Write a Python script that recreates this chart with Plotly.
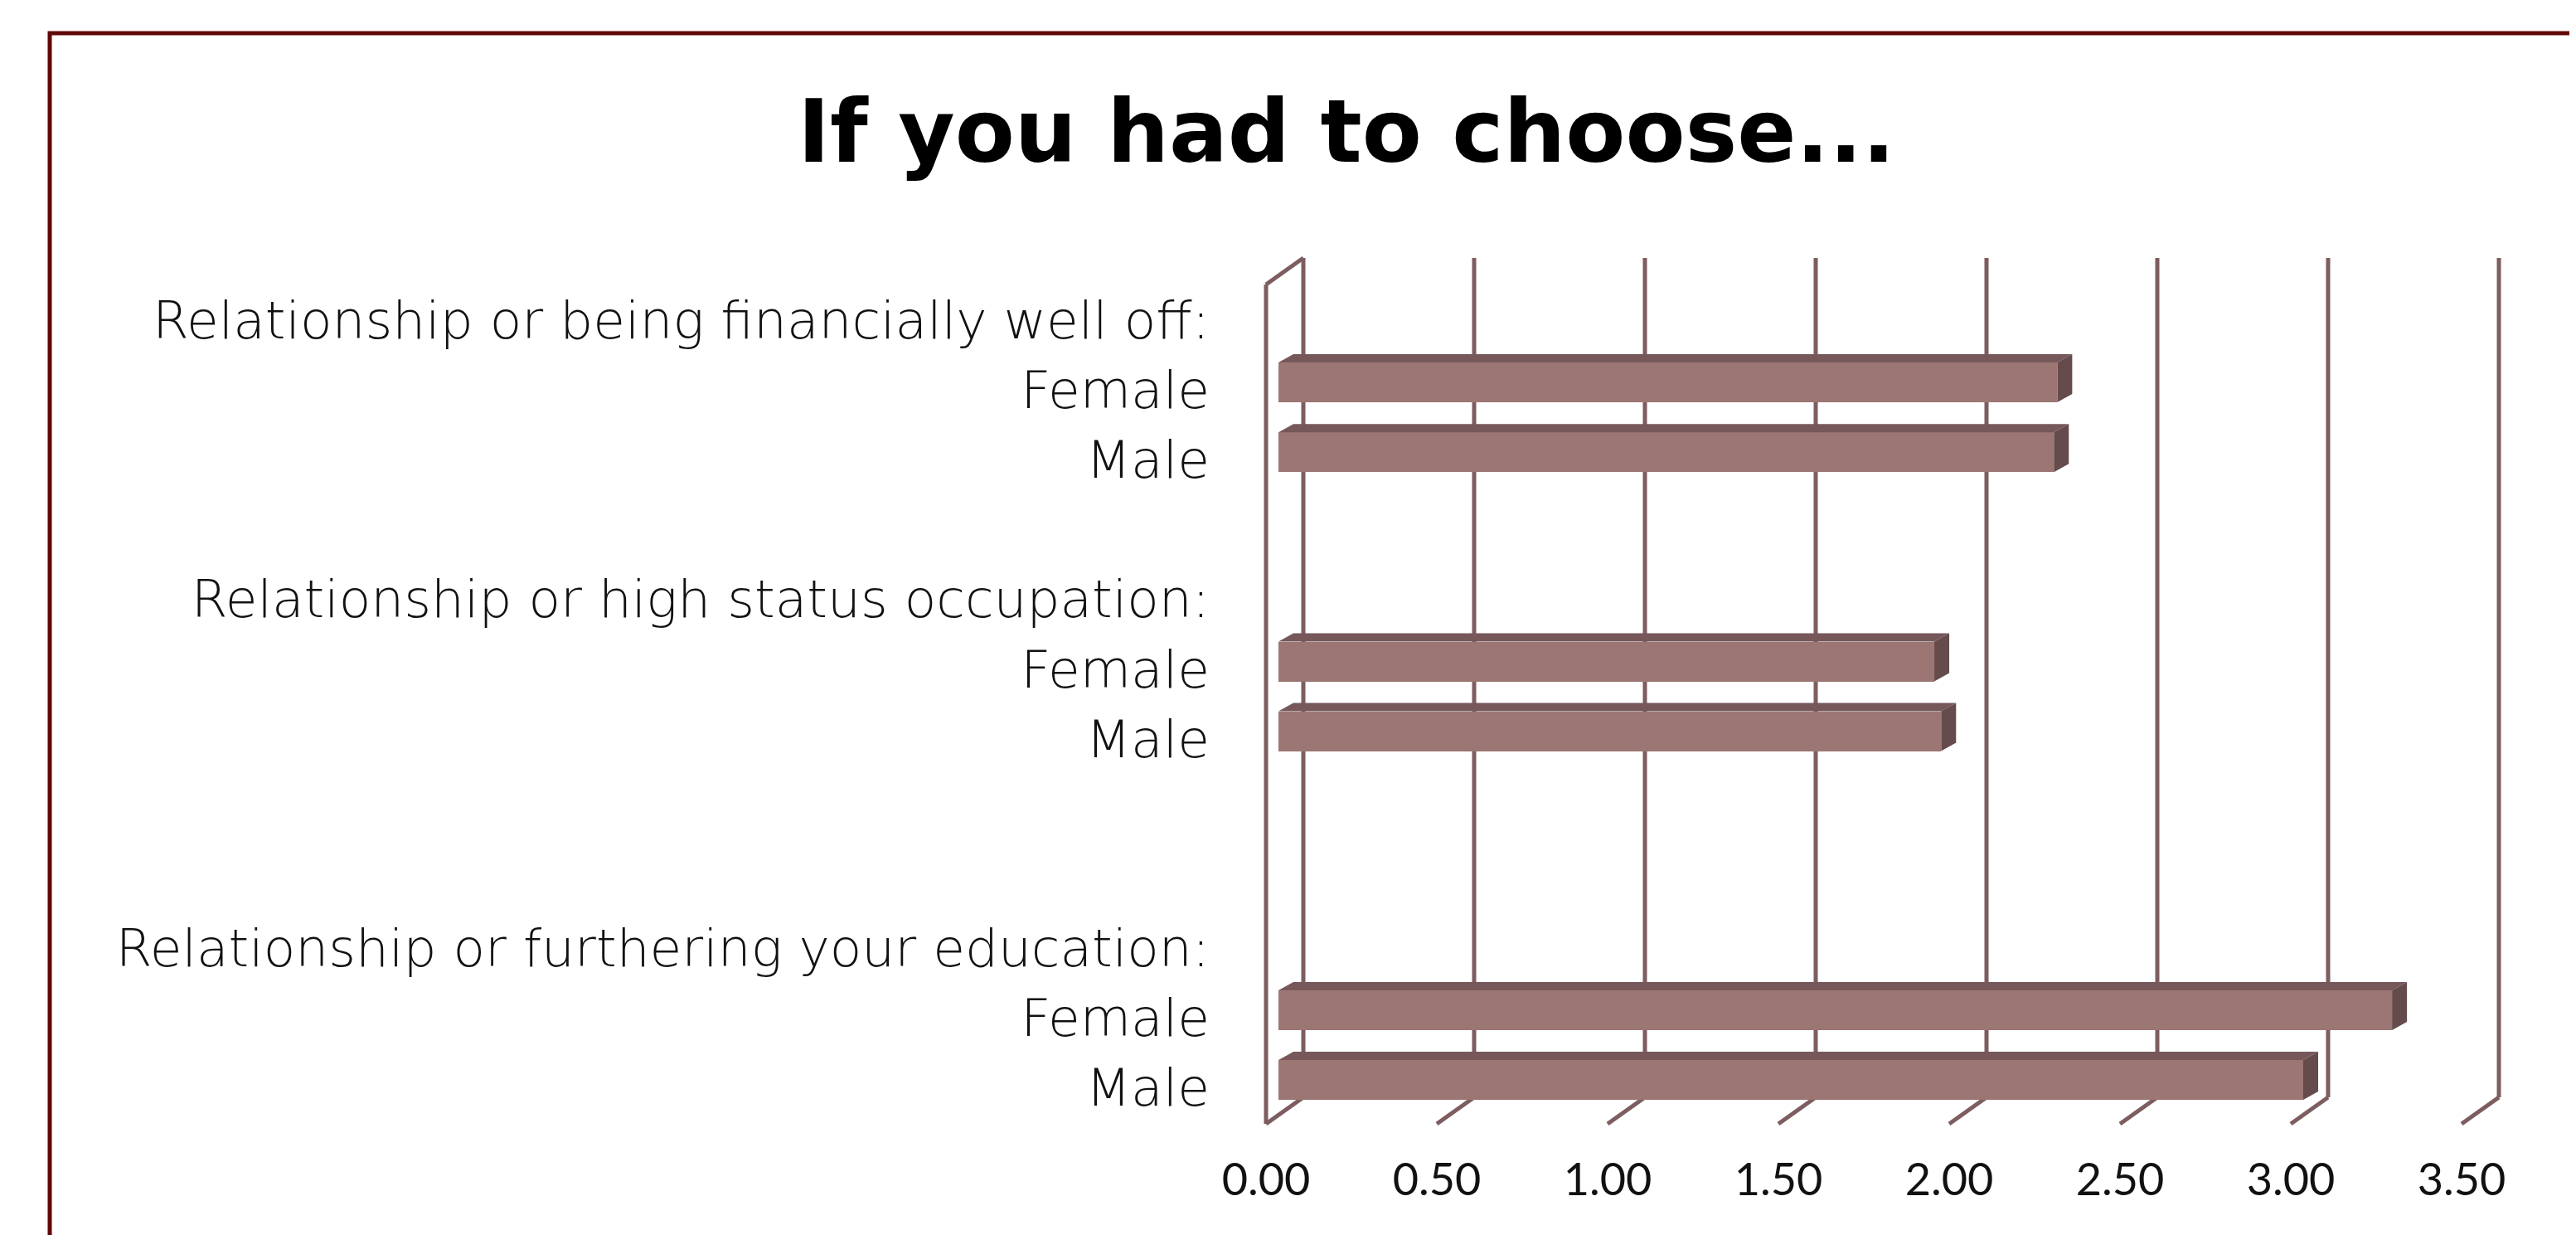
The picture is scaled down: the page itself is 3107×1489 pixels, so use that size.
import plotly.graph_objects as go

# ---------------- data ----------------
row_labels = [
    "Relationship or being financially well off:", "Female", "Male", "",
    "Relationship or high status occupation:", "Female", "Male", "", "",
    "Relationship or furthering your education:", "Female", "Male",
]
row_values = [None, 2.28, 2.27, None, None, 1.92, 1.94, None, None, None, 3.26, 3.00]
tick_values = [0.0, 0.5, 1.0, 1.5, 2.0, 2.5, 3.0, 3.5]
tick_labels = ["0.00", "0.50", "1.00", "1.50", "2.00", "2.50", "3.00", "3.50"]
title_text = "If you had to choose..."

# ---------------- layout geometry (screen pixels) ----------------
W, H = 3107, 1489
OFF = 8                      # page body margin
L, R, T, B = 1480, 3107, 290, 1374
X0, SX = 1542.0, 412.0       # bar-front plane: pixel of value 0, pixels per unit
Y0, SY = 377.0, 84.1         # row 0 centre, pixels per row
BAR_H = 48.0
TOP_DX, TOP_DY = 18.0, -10.0
BACK_DX, BACK_DY = 30.0, -21.0
DEPTH_DX, DEPTH_DY = -45.0, 32.0
WALL_TOP, WALL_BOT = 311.0, 1323.0

FRONT = "#9c7673"
TOPC = "#76585a"
SIDE = "#654b4c"
GRID = "#7d5d5f"
BORDER = "#600808"
LABEL_FONT = "DejaVu Sans"
TICK_FONT = "Lato"
TITLE_FONT = "DejaVu Sans"


def dx(px):
    return px / SX


def dy(px):
    return px / SY


def y_of_px(py):
    return (py - Y0) / SY


def x_of_px(px):
    return (px - X0) / SX


rows = list(range(len(row_labels)))
bar_rows = [i for i, v in zip(rows, row_values) if v is not None]
bar_vals = [v for v in row_values if v is not None]

fig = go.Figure()

fig.add_trace(go.Bar(
    x=bar_vals, y=bar_rows, orientation="h", width=dy(BAR_H), base=0,
    marker=dict(color=FRONT, line=dict(width=0)), hoverinfo="x", showlegend=False,
))

top_x, top_y, side_x, side_y = [], [], [], []
h2 = dy(BAR_H) / 2
for i, v in zip(bar_rows, bar_vals):
    yt = i - h2
    yb = i + h2
    top_x += [0, v, v + dx(TOP_DX), dx(TOP_DX), 0, None]
    top_y += [yt, yt, yt + dy(TOP_DY), yt + dy(TOP_DY), yt, None]
    side_x += [v, v + dx(TOP_DX), v + dx(TOP_DX), v, v, None]
    side_y += [yt, yt + dy(TOP_DY), yb + dy(TOP_DY), yb, yt, None]

fig.add_trace(go.Scatter(x=top_x, y=top_y, fill="toself", fillcolor=TOPC, mode="lines",
                         line=dict(width=0), hoverinfo="skip", showlegend=False))
fig.add_trace(go.Scatter(x=side_x, y=side_y, fill="toself", fillcolor=SIDE, mode="lines",
                         line=dict(width=0), hoverinfo="skip", showlegend=False))

shapes = []
line = dict(color=GRID, width=5)
y_top_back = y_of_px(WALL_TOP)
y_bot_back = y_of_px(WALL_BOT)
for v in tick_values:
    xb = v + dx(BACK_DX)
    shapes.append(dict(type="line", xref="x", yref="y", x0=xb, x1=xb,
                       y0=y_top_back, y1=y_bot_back, line=line, layer="below"))
    shapes.append(dict(type="line", xref="x", yref="y", x0=xb, x1=xb + dx(DEPTH_DX),
                       y0=y_bot_back, y1=y_bot_back + dy(DEPTH_DY), line=line, layer="below"))
xb0 = tick_values[0] + dx(BACK_DX)
xf0 = xb0 + dx(DEPTH_DX)
shapes.append(dict(type="line", xref="x", yref="y", x0=xb0, x1=xf0,
                   y0=y_top_back, y1=y_top_back + dy(DEPTH_DY), line=line, layer="below"))
shapes.append(dict(type="line", xref="x", yref="y", x0=xf0, x1=xf0,
                   y0=y_top_back + dy(DEPTH_DY), y1=y_bot_back + dy(DEPTH_DY), line=line, layer="below"))


def xp(px):
    return (px - L) / (R - L)


def yp(py):
    return (B - py) / (B - T)


shapes.append(dict(type="rect", xref="paper", yref="paper",
                   x0=xp(60), x1=xp(W + 40), y0=yp(40), y1=yp(H + 40),
                   line=dict(color=BORDER, width=5), fillcolor="rgba(0,0,0,0)", layer="above"))

front_shift = dx(DEPTH_DX) + dx(BACK_DX)
fig.update_layout(
    width=W, height=H,
    margin=dict(l=L - OFF, r=W - (R - OFF), t=T - OFF, b=H - (B - OFF), pad=0),
    paper_bgcolor="white", plot_bgcolor="white",
    shapes=shapes,
    title=dict(text="<b>" + title_text + "</b>", x=(1624 - OFF) / W, xanchor="center",
               y=1 - (158 - OFF) / H, yanchor="middle",
               font=dict(family=TITLE_FONT, size=105, color="#000000")),
    xaxis=dict(range=[x_of_px(L), x_of_px(R)], showgrid=False, zeroline=False,
               showline=False, ticks="",
               tickvals=[v + front_shift for v in tick_values], ticktext=tick_labels,
               tickfont=dict(family=TICK_FONT, size=54, color="#111111"),
               ticklabelstandoff=12, fixedrange=True),
    yaxis=dict(range=[y_of_px(B), y_of_px(T)], showgrid=False, zeroline=False,
               showline=False, ticks="",
               tickvals=[i + dy(9) for i in rows], ticktext=row_labels,
               tickfont=dict(family=LABEL_FONT, size=63, color="#111111", weight=200),
               ticklabelstandoff=20, fixedrange=True),
    bargap=0,
    showlegend=False,
)

fig.write_html("out.html")
